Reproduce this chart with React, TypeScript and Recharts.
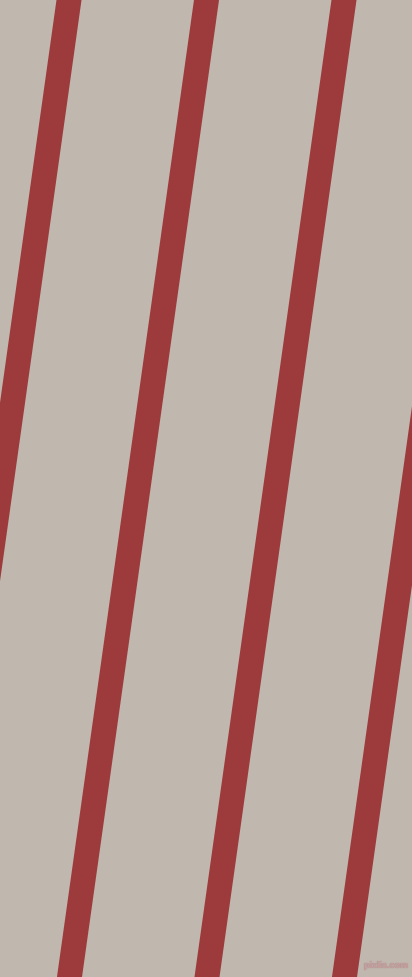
import React from "react";
import { LineChart, Line, XAxis, YAxis } from "recharts";

const W = 412;
const H = 977;

// stripe centre x at top (y=0) and bottom (y=977)
const stripeTopX = [69, 206.5, 344, 481.5];
const stripeBottomX = [-68, 69.5, 207, 344.5];
const stripeNames = ["s1", "s2", "s3", "s4"];

const BG = "#c0b7af";
const STRIPE = "#9d3a3c";

export default function App() {
  return (
    <div style={{ position: "fixed", left: 0, top: 0, width: W, height: H, background: BG, overflow: "hidden" }}>
      <LineChart width={W} height={H} margin={{ top: 0, right: 0, bottom: 0, left: 0 }}>
        <XAxis type="number" dataKey="x" domain={[0, W]} hide allowDataOverflow />
        <YAxis type="number" dataKey="y" domain={[0, H]} reversed hide allowDataOverflow width={0} />
        {stripeNames.map((n, i) => (
          <Line
            key={n}
            data={[
              { x: stripeTopX[i], y: 0 },
              { x: stripeBottomX[i], y: H },
            ]}
            dataKey="y"
            stroke={STRIPE}
            strokeWidth={24.8}
            strokeLinecap="square"
            dot={false}
            activeDot={false}
            isAnimationActive={false}
          />
        ))}
      </LineChart>
      <div
        style={{
          position: "absolute",
          left: 364,
          top: 960,
          width: 42,
          textAlign: "center",
          fontFamily: "Liberation Sans, Arial, sans-serif",
          fontSize: 9,
          fontWeight: "bold",
          color: "#c9a3a3",
          textShadow: "0 0 1px #9a6a6c",
          lineHeight: "11px",
          whiteSpace: "nowrap",
        }}
      >
        pixlis.com
      </div>
    </div>
  );
}
